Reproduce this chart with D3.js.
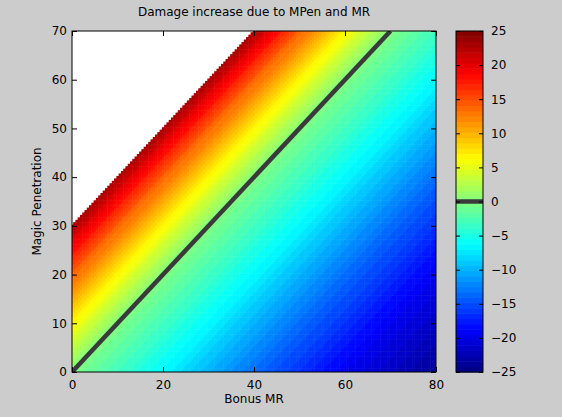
<!DOCTYPE html>
<html><head><meta charset="utf-8">
<script src="https://cdn.jsdelivr.net/npm/d3@7"></script>
<style>body{margin:0;background:#cccccc}svg{display:block}text{font-family:"DejaVu Sans",sans-serif;fill:#000}</style>
</head><body><svg id="c" width="562" height="417"></svg>
<script>
// Data
const bonusMR = d3.range(0, 80.01, 0.5);     // x categories (Bonus MR)
const magicPen = d3.range(0, 70.01, 0.5);    // y categories (Magic Penetration)
// damage increase profile read along (MPen - MR)
const profileDiff = [-80, -60, -40, -20, 0, 10, 20, 30, 31];
const profileValue = [-24, -19.5, -13.5, -6.5, 0, 6.5, 14, 23, 25];
const xTicks = [0, 20, 40, 60, 80];
const yTicks = [0, 10, 20, 30, 40, 50, 60, 70];
const cTicks = [-25, -20, -15, -10, -5, 0, 5, 10, 15, 20, 25];

function jet(t){
  const r = Math.min(Math.max(Math.min(4*t-1.5, -4*t+4.5),0),1);
  const g = Math.min(Math.max(Math.min(4*t-0.5, -4*t+3.5),0),1);
  const b = Math.min(Math.max(Math.min(4*t+0.5, -4*t+2.5),0),1);
  return d3.rgb(r*255,g*255,b*255).toString();
}
const nLev = 64;
const cmap = v => { let i = Math.floor((v+25)/50*nLev); i = Math.max(0,Math.min(nLev-1,i)); return jet((i+0.5)/nLev); };
const prof = d3.scaleLinear().domain(profileDiff).range(profileValue);

const svg = d3.select("#c");
const L=72,R=436,T=31,B=372;
const x = d3.scaleLinear().domain([0,80]).range([L,R]);
const y = d3.scaleLinear().domain([0,70]).range([B,T]);
svg.append("rect").attr("x",L).attr("y",T).attr("width",R-L).attr("height",B-T).attr("fill","#fff");
svg.append("clipPath").attr("id","cp").append("rect").attr("x",L).attr("y",T).attr("width",R-L).attr("height",B-T);
const g = svg.append("g").attr("clip-path","url(#cp)");
const cw = x(0.5)-x(0), ch = y(0)-y(0.5);
const cells = [];
for (const mp of magicPen) for (const mr of bonusMR) { const d = mp - mr; if (d <= 30.25) cells.push({mr, mp, v: prof(d)}); }
g.selectAll("rect").data(cells).join("rect")
  .attr("x",c=>x(c.mr)-cw/2).attr("y",c=>y(c.mp)-ch/2).attr("width",cw+0.5).attr("height",ch+0.5)
  .attr("fill",c=>cmap(c.v));
svg.append("line").attr("x1",x(0)).attr("y1",y(0)).attr("x2",x(70)).attr("y2",y(70))
  .attr("stroke","#3a3a3a").attr("stroke-width",4.5).attr("clip-path","url(#cp)");
svg.append("rect").attr("x",L).attr("y",T).attr("width",R-L).attr("height",B-T).attr("fill","none").attr("stroke","#000");
const ax = svg.append("g").attr("transform",`translate(0,${B})`).call(d3.axisBottom(x).tickValues(xTicks).tickSize(-5).tickPadding(8));
const ay = svg.append("g").attr("transform",`translate(${L},0)`).call(d3.axisLeft(y).tickValues(yTicks).tickSize(-5).tickPadding(5));
[ax,ay].forEach(a=>{a.select(".domain").remove();a.selectAll("text").attr("font-size",12).style("font-family","DejaVu Sans");});
svg.append("g").attr("transform",`translate(0,${T})`).call(d3.axisTop(x).tickValues(xTicks).tickSize(-5).tickFormat("")).select(".domain").remove();
svg.append("g").attr("transform",`translate(${R},0)`).call(d3.axisRight(y).tickValues(yTicks).tickSize(-5).tickFormat("")).select(".domain").remove();
svg.append("text").attr("x",(L+R)/2).attr("y",403).attr("text-anchor","middle").attr("font-size",12).text("Bonus MR");
svg.append("text").attr("transform",`translate(41,${(T+B)/2}) rotate(-90)`).attr("text-anchor","middle").attr("font-size",12).text("Magic Penetration");
svg.append("text").attr("x",(L+R)/2).attr("y",16).attr("text-anchor","middle").attr("font-size",12).text("Damage increase due to MPen and MR");
// colorbar
const CL=456, CR=483;
const cy = d3.scaleLinear().domain([-25,25]).range([B,T]);
const levels = d3.range(nLev);
svg.append("g").selectAll("rect").data(levels).join("rect")
  .attr("x",CL).attr("width",CR-CL)
  .attr("y",i=>cy(-25+(i+1)*50/nLev)).attr("height",i=>cy(-25+i*50/nLev)-cy(-25+(i+1)*50/nLev)+0.5)
  .attr("fill",i=>jet((i+0.5)/nLev));
svg.append("line").attr("x1",CL).attr("x2",CR).attr("y1",cy(0)).attr("y2",cy(0)).attr("stroke","#3a3a3a").attr("stroke-width",4.5);
svg.append("rect").attr("x",CL).attr("y",T).attr("width",CR-CL).attr("height",B-T).attr("fill","none").attr("stroke","#000");
const ac = svg.append("g").attr("transform",`translate(${CR},0)`).call(d3.axisRight(cy).tickValues(cTicks).tickSize(-4).tickPadding(8));
ac.select(".domain").remove(); ac.selectAll("text").attr("font-size",12).style("font-family","DejaVu Sans");
svg.append("g").attr("transform",`translate(${CL},0)`).call(d3.axisLeft(cy).tickValues(cTicks).tickSize(-4).tickFormat("")).select(".domain").remove();
</script></body></html>
